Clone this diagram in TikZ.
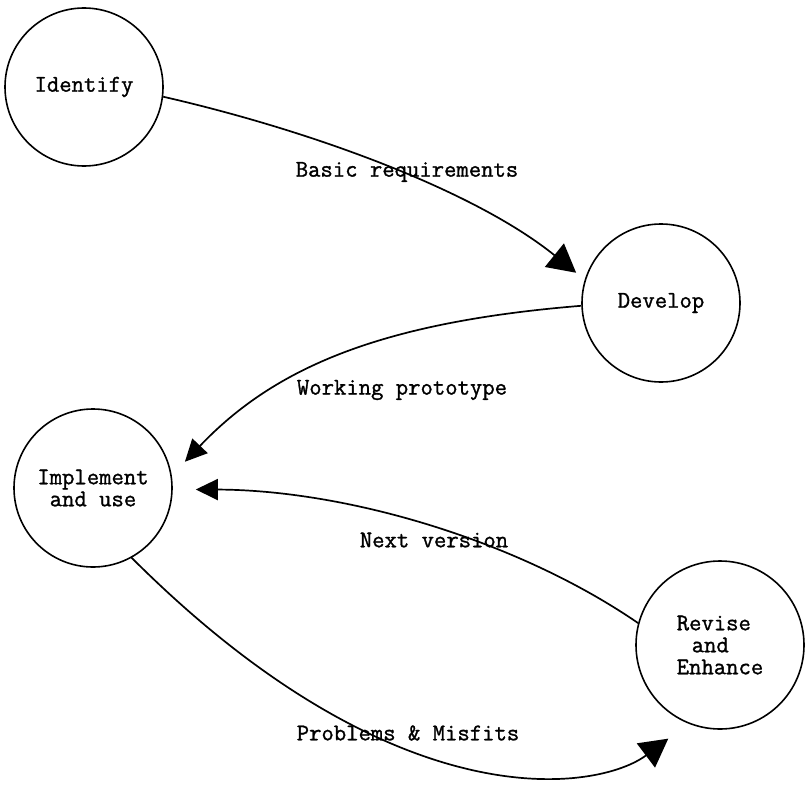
\documentclass[tikz,border=0pt]{standalone}
\usepackage{fontspec}
\newfontfamily\tw{Latin Modern Mono}[FakeBold=1.2]
\usetikzlibrary{arrows.meta}
\begin{document}
\begin{tikzpicture}[x=1pt,y=-1pt,
  state/.style={circle, draw, line width=1.6pt, minimum size=158pt, inner sep=0pt,
    font=\fontsize{24}{22}\selectfont\tw, align=center},
  conn/.style={line width=1.7pt},
  bighead/.style={-{Triangle[length=28pt,width=30pt]}},
  smallhead/.style={-{Triangle[length=22pt,width=21pt]}},
  lbl/.style={font=\fontsize{24}{22}\selectfont\tw, inner sep=0pt}]
\useasboundingbox (0,0) rectangle (808,784);
\node[state] (id) at (84,87) {Identify};
\node[state] (dev) at (661,303) {Develop};
\node[state] (imp) at (93,488) {Implement\\and use};
\node[state, minimum size=168pt, align=left] (rev) at (720,645) {Revise\\\hspace*{15pt}and\\Enhance};
\node[lbl] (l1) at (407,172) {Basic requirements};
\node[lbl] (l2) at (402,390) {Working prototype};
\node[lbl] (l3) at (434,540) {Next version};
\node[lbl] (l4) at (408,733) {Problems \& Misfits};
\draw[conn,bighead,shorten >=11pt] (id.-7) .. controls (313,131) and (475,191) .. (dev.163);
\draw[conn,smallhead,shorten >=19pt] (dev.182) .. controls (382,322) and (275,367) .. (imp.9);
\draw[conn,smallhead,shorten >=23pt] (rev.165) .. controls (517,540) and (346,490) .. (imp.-1);
\draw[conn,bighead,shorten >=25pt] (imp.-61) .. controls (400,826) and (600,790) .. (rev.248);
\end{tikzpicture}
\end{document}
